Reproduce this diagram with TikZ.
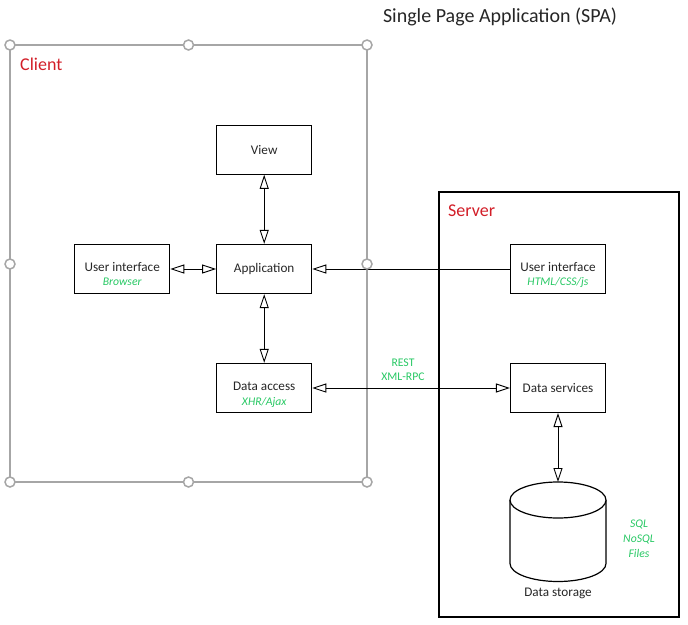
\documentclass[tikz,border=0pt]{standalone}
\usepackage{fontspec}
\setmainfont{Carlito}
\usetikzlibrary{arrows.meta}
\definecolor{grn}{RGB}{40,200,100}
\definecolor{redc}{RGB}{210,30,40}
\definecolor{hdl}{RGB}{166,166,166}
\definecolor{txt}{RGB}{38,38,38}
\tikzset{otri/.tip={Triangle[open,length=14pt,width=9pt]}}
\begin{document}
\begin{tikzpicture}[x=1pt,y=-1pt,
  box/.style={draw, line width=1.2pt, minimum width=95pt, minimum height=49pt, inner sep=0pt, text=txt, font=\fontsize{13.2}{15}\selectfont},
  sub/.style={text=grn, font=\fontsize{11.7}{14}\selectfont\itshape, inner sep=0pt},
  lbl/.style={text=txt, inner sep=0pt, font=\fontsize{13.2}{15}\selectfont},
  conn/.style={line width=0.9pt},
  hnd/.style={draw=hdl, line width=1.5pt, fill=white}]
\useasboundingbox (0,0) rectangle (688,624);
% title
\node[text=txt, inner sep=0pt, font=\fontsize{20}{24}\selectfont] (title) at (500,17) {Single Page Application (SPA)};
% client frame
\draw[hdl, line width=2pt] (10,45) rectangle (367,482);
\node[text=redc, inner sep=0pt, anchor=west, font=\fontsize{18}{22}\selectfont] (client) at (20,64) {Client};
% server frame
\draw[line width=1.3pt] (439,192) rectangle (679,617);
\node[text=redc, inner sep=0pt, anchor=west, font=\fontsize{18}{22}\selectfont] (server) at (448,211) {Server};
% boxes
\node[box] (view) at (264.2,149.7) {View};
\node[box] (app) at (264.2,269) {Application};
\node[box] (uil) at (122.2,269) {};
\node[lbl] (uiltxt) at (122.2,267) {User interface};
\node[sub] (uilsub) at (122.2,282) {Browser};
\node[box] (da) at (264.2,388) {};
\node[lbl] (datxt) at (264.2,386) {Data access};
\node[sub] (dasub) at (264.2,402) {XHR/Ajax};
\node[box] (uir) at (558,269) {};
\node[lbl] (uirtxt) at (558,267) {User interface};
\node[sub] (uirsub) at (558,282) {HTML/CSS/js};
\node[box] (ds) at (558,388) {Data services};
% cylinder
\draw[line width=1.2pt, fill=white] (510,500) -- (510,563.5) arc[start angle=180, end angle=360, x radius=48pt, y radius=18pt] -- (606,500);
\draw[line width=1.2pt, fill=white] (558,500) ellipse[x radius=48pt, y radius=18pt];
\coordinate (dbtop) at (558,482);
\node[lbl] (dbl) at (558,593) {Data storage};
\node[sub, align=center, font=\fontsize{11.7}{15}\selectfont\itshape] (dbsub) at (639,539) {SQL\\NoSQL\\Files};
\node[text=grn, inner sep=0pt, align=center, font=\fontsize{11.7}{14}\selectfont] (rest) at (403,370) {REST\\XML-RPC};
% connectors
\draw[conn, otri-otri] (uil) -- (app);
\draw[conn, otri-otri] (view) -- (app);
\draw[conn, otri-otri] (app) -- (da);
\draw[conn, -otri] (uir) -- (app);
\draw[conn, otri-otri] (da) -- (ds);
\draw[conn, otri-otri] (ds.south) -- (dbtop);
% handles
\foreach \p in {(10,45),(188.5,45),(367,45),(10,264),(367,264),(10,482),(188.5,482),(367,482)}
  \draw[hnd] \p circle[radius=5pt];
\end{tikzpicture}
\end{document}
